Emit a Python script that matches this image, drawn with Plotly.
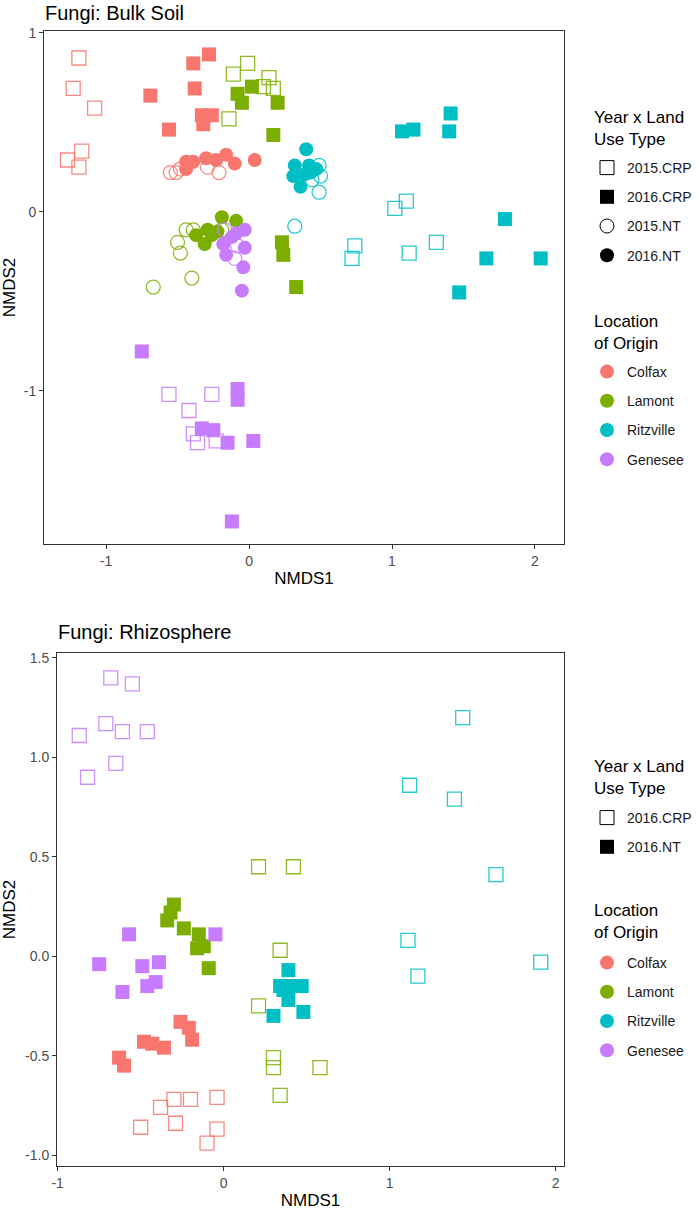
import plotly.graph_objects as go

# ---------------- colours / categories ----------------
LOCATIONS = ["Colfax", "Lamont", "Ritzville", "Genesee"]
COLORS = ["#F8766D", "#7CAE00", "#00BFC4", "#C77CFF"]

# ---------------- Panel 1: Bulk soil ----------------
BULK_TYPES = ["2015.CRP", "2016.CRP", "2015.NT", "2016.NT"]

bulk_colfax_crp15_x = [-1.19, -1.23, -1.08, -1.17, -1.27, -1.19]
bulk_colfax_crp15_y = [0.86, 0.69, 0.58, 0.34, 0.29, 0.25]
bulk_colfax_crp16_x = [-0.28, -0.39, -0.38, -0.69, -0.56, -0.33, -0.26, -0.32]
bulk_colfax_crp16_y = [0.88, 0.83, 0.69, 0.65, 0.46, 0.54, 0.54, 0.49]
bulk_colfax_nt15_x = [-0.55, -0.51, -0.48, -0.29, -0.21]
bulk_colfax_nt15_y = [0.22, 0.22, 0.24, 0.25, 0.22]
bulk_colfax_nt16_x = [-0.44, -0.39, -0.44, -0.30, -0.23, -0.16, -0.10, 0.04]
bulk_colfax_nt16_y = [0.28, 0.28, 0.24, 0.30, 0.29, 0.32, 0.27, 0.29]

bulk_lamont_crp15_x = [-0.11, -0.01, 0.14, 0.17, 0.10, -0.14]
bulk_lamont_crp15_y = [0.77, 0.83, 0.75, 0.69, 0.70, 0.52]
bulk_lamont_crp16_x = [-0.08, -0.05, 0.02, 0.20, 0.17, 0.23, 0.24, 0.33]
bulk_lamont_crp16_y = [0.66, 0.61, 0.70, 0.61, 0.43, -0.17, -0.24, -0.42]
bulk_lamont_nt15_x = [-0.44, -0.39, -0.50, -0.48, -0.40, -0.67, -0.19]
bulk_lamont_nt15_y = [-0.10, -0.10, -0.17, -0.23, -0.37, -0.42, -0.10]
bulk_lamont_nt16_x = [-0.19, -0.09, -0.37, -0.29, -0.31, -0.26, -0.22]
bulk_lamont_nt16_y = [-0.03, -0.05, -0.13, -0.10, -0.18, -0.13, -0.11]

bulk_ritz_crp15_x = [1.10, 1.02, 0.74, 0.72, 1.12, 1.31]
bulk_ritz_crp15_y = [0.06, 0.02, -0.19, -0.26, -0.23, -0.17]
bulk_ritz_crp16_x = [1.41, 1.07, 1.15, 1.40, 1.79, 1.66, 2.04, 1.47]
bulk_ritz_crp16_y = [0.55, 0.45, 0.46, 0.45, -0.04, -0.26, -0.26, -0.45]
bulk_ritz_nt15_x = [0.50, 0.49, 0.44, 0.49, 0.32]
bulk_ritz_nt15_y = [0.20, 0.26, 0.18, 0.11, -0.08]
bulk_ritz_nt16_x = [0.40, 0.32, 0.31, 0.36, 0.42, 0.43, 0.47, 0.39]
bulk_ritz_nt16_y = [0.35, 0.26, 0.20, 0.14, 0.26, 0.22, 0.24, 0.21]

bulk_gen_crp15_x = [-0.56, -0.26, -0.42, -0.39, -0.36, -0.23]
bulk_gen_crp15_y = [-1.02, -1.02, -1.11, -1.24, -1.29, -1.28]
bulk_gen_crp16_x = [-0.75, -0.08, -0.08, -0.33, -0.25, -0.15, 0.03, -0.12]
bulk_gen_crp16_y = [-0.78, -0.99, -1.05, -1.21, -1.22, -1.29, -1.28, -1.73]
bulk_gen_nt15_x = [-0.17, -0.08, -0.10]
bulk_gen_nt15_y = [-0.10, -0.19, -0.26]
bulk_gen_nt16_x = [-0.03, -0.09, -0.12, -0.18, -0.03, -0.16, -0.04, -0.05]
bulk_gen_nt16_y = [-0.10, -0.12, -0.14, -0.18, -0.20, -0.24, -0.31, -0.44]

# ---------------- Panel 2: Rhizosphere ----------------
RHIZO_TYPES = ["2016.CRP", "2016.NT"]

rhizo_colfax_crp_x = [-0.30, -0.20, -0.04, -0.38, -0.50, -0.29, -0.04, -0.10]
rhizo_colfax_crp_y = [-0.72, -0.72, -0.71, -0.76, -0.86, -0.84, -0.87, -0.94]
rhizo_colfax_nt_x = [-0.26, -0.21, -0.19, -0.48, -0.43, -0.36, -0.63, -0.60]
rhizo_colfax_nt_y = [-0.33, -0.36, -0.42, -0.43, -0.44, -0.46, -0.51, -0.55]

rhizo_lamont_crp_x = [0.21, 0.42, 0.34, 0.21, 0.30, 0.30, 0.58, 0.34]
rhizo_lamont_crp_y = [0.45, 0.45, 0.03, -0.25, -0.51, -0.56, -0.56, -0.70]
rhizo_lamont_nt_x = [-0.30, -0.32, -0.34, -0.24, -0.15, -0.16, -0.12, -0.09]
rhizo_lamont_nt_y = [0.26, 0.22, 0.18, 0.14, 0.11, 0.04, 0.05, -0.06]

rhizo_ritz_crp_x = [1.44, 1.12, 1.39, 1.64, 1.11, 1.17, 1.91]
rhizo_ritz_crp_y = [1.20, 0.86, 0.79, 0.41, 0.08, -0.10, -0.03]
rhizo_ritz_nt_x = [0.39, 0.34, 0.39, 0.47, 0.36, 0.39, 0.48, 0.30]
rhizo_ritz_nt_y = [-0.07, -0.15, -0.15, -0.15, -0.17, -0.22, -0.28, -0.30]

rhizo_gen_crp_x = [-0.68, -0.55, -0.71, -0.61, -0.46, -0.87, -0.65, -0.82]
rhizo_gen_crp_y = [1.40, 1.37, 1.17, 1.13, 1.13, 1.11, 0.97, 0.90]
rhizo_gen_nt_x = [-0.05, -0.57, -0.75, -0.49, -0.39, -0.41, -0.46, -0.61]
rhizo_gen_nt_y = [0.11, 0.11, -0.04, -0.05, -0.03, -0.13, -0.15, -0.18]

BULK_X_TICKS = [-1, 0, 1, 2]
BULK_Y_TICKS = [-1, 0, 1]
RHIZO_X_TICKS = [-1, 0, 1, 2]
RHIZO_Y_TICKS = [-1.0, -0.5, 0.0, 0.5, 1.0, 1.5]

# ---------------- figure ----------------
W, H = 700, 1210  # body margin is removed in the page (see post_script below)
FONT = "Arial, Liberation Sans, sans-serif"
SYMBOLS = {"2015.CRP": "square-open", "2016.CRP": "square",
           "2015.NT": "circle-open", "2016.NT": "circle"}
RHIZO_SYMBOLS = {"2016.CRP": "square-open", "2016.NT": "square"}

fig = go.Figure()


def add_points(x, y, color, symbol, xa, ya):
    is_open = symbol.endswith("open")
    fig.add_trace(go.Scatter(
        x=x, y=y, mode="markers", xaxis=xa, yaxis=ya, showlegend=False,
        hoverinfo="x+y",
        marker=dict(symbol=symbol, size=14,
                    color=color, opacity=0.85 if is_open else 1.0,
                    line=dict(color=color, width=1.3 if is_open else 0))))


bulk_data = [
    [(bulk_colfax_crp15_x, bulk_colfax_crp15_y), (bulk_colfax_crp16_x, bulk_colfax_crp16_y),
     (bulk_colfax_nt15_x, bulk_colfax_nt15_y), (bulk_colfax_nt16_x, bulk_colfax_nt16_y)],
    [(bulk_lamont_crp15_x, bulk_lamont_crp15_y), (bulk_lamont_crp16_x, bulk_lamont_crp16_y),
     (bulk_lamont_nt15_x, bulk_lamont_nt15_y), (bulk_lamont_nt16_x, bulk_lamont_nt16_y)],
    [(bulk_ritz_crp15_x, bulk_ritz_crp15_y), (bulk_ritz_crp16_x, bulk_ritz_crp16_y),
     (bulk_ritz_nt15_x, bulk_ritz_nt15_y), (bulk_ritz_nt16_x, bulk_ritz_nt16_y)],
    [(bulk_gen_crp15_x, bulk_gen_crp15_y), (bulk_gen_crp16_x, bulk_gen_crp16_y),
     (bulk_gen_nt15_x, bulk_gen_nt15_y), (bulk_gen_nt16_x, bulk_gen_nt16_y)],
]
for li, loc in enumerate(LOCATIONS):
    for ti, t in enumerate(BULK_TYPES):
        xs, ys = bulk_data[li][ti]
        add_points(xs, ys, COLORS[li], SYMBOLS[t], "x", "y")

rhizo_data = [
    [(rhizo_colfax_crp_x, rhizo_colfax_crp_y), (rhizo_colfax_nt_x, rhizo_colfax_nt_y)],
    [(rhizo_lamont_crp_x, rhizo_lamont_crp_y), (rhizo_lamont_nt_x, rhizo_lamont_nt_y)],
    [(rhizo_ritz_crp_x, rhizo_ritz_crp_y), (rhizo_ritz_nt_x, rhizo_ritz_nt_y)],
    [(rhizo_gen_crp_x, rhizo_gen_crp_y), (rhizo_gen_nt_x, rhizo_gen_nt_y)],
]
for li, loc in enumerate(LOCATIONS):
    for ti, t in enumerate(RHIZO_TYPES):
        xs, ys = rhizo_data[li][ti]
        add_points(xs, ys, COLORS[li], RHIZO_SYMBOLS[t], "x2", "y2")


# legend entries (dummy traces)
def legend_entry(name, symbol, color, legend, group):
    is_open = symbol.endswith("open")
    fig.add_trace(go.Scatter(
        x=[None], y=[None], mode="markers", name=name, legend=legend,
        legendgroup=group, showlegend=True,
        marker=dict(symbol=symbol, size=14, color=color,
                    line=dict(color=color, width=1 if is_open else 0))))


for t in BULK_TYPES:
    legend_entry(t, SYMBOLS[t], "#000000", "legend", "b_" + t)
for li, loc in enumerate(LOCATIONS):
    legend_entry(loc, "circle", COLORS[li], "legend2", "bl_" + loc)
for t in RHIZO_TYPES:
    legend_entry(t, RHIZO_SYMBOLS[t], "#000000", "legend3", "r_" + t)
for li, loc in enumerate(LOCATIONS):
    legend_entry(loc, "circle", COLORS[li], "legend4", "rl_" + loc)


def px_x(p):
    return p / W


def px_y(p):
    return 1 - p / H


axis_common = dict(showgrid=False, zeroline=False, showline=True, mirror=True,
                   linecolor="#333333", linewidth=1, ticks="outside", ticklen=4,
                   tickcolor="#333333", automargin=False,
                   tickfont=dict(family=FONT, size=14, color="#4d4d4d"))
title_font = dict(family=FONT, size=17, color="#000")

legend_common = dict(bgcolor="rgba(0,0,0,0)", xanchor="left", yanchor="top",
                     font=dict(family=FONT, size=14, color="#1a1a1a"),
                     tracegroupgap=8, itemclick=False, itemdoubleclick=False)

LEG_X = 587
TITLE_X = 592


def ann(text, x, y, size, anchor="top"):
    return dict(text=text, x=px_x(x), y=px_y(y), xref="paper", yref="paper",
                xanchor="left", yanchor=anchor, align="left", showarrow=False,
                font=dict(family=FONT, size=size, color="#000"))


fig.update_layout(
    width=W, height=H, margin=dict(l=0, r=0, t=0, b=0),
    paper_bgcolor="white", plot_bgcolor="white",
    font=dict(family=FONT),
    xaxis=dict(domain=[px_x(44), px_x(564)], range=[-1.434, 2.203], anchor="y",
               tickvals=BULK_X_TICKS, ticktext=[str(v) for v in BULK_X_TICKS],
               title=dict(text="NMDS1", font=title_font, standoff=4),
               **axis_common),
    yaxis=dict(domain=[px_y(544), px_y(31)], range=[-1.856, 1.011], anchor="x",
               tickvals=BULK_Y_TICKS, ticktext=[str(v) for v in BULK_Y_TICKS],
               title=dict(text="NMDS2", font=title_font, standoff=6),
               **axis_common),
    xaxis2=dict(domain=[px_x(57), px_x(564)], range=[-1.004, 2.05], anchor="y2",
                tickvals=RHIZO_X_TICKS, ticktext=[str(v) for v in RHIZO_X_TICKS],
                title=dict(text="NMDS1", font=title_font, standoff=4),
                **axis_common),
    yaxis2=dict(domain=[px_y(1166), px_y(653)], range=[-1.055, 1.525], anchor="x2",
                tickvals=RHIZO_Y_TICKS, ticktext=["%.1f" % v for v in RHIZO_Y_TICKS],
                title=dict(text="NMDS2", font=title_font, standoff=6),
                **axis_common),
    legend=dict(x=px_x(LEG_X), y=px_y(152), **legend_common),
    legend2=dict(x=px_x(LEG_X), y=px_y(356), **legend_common),
    legend3=dict(x=px_x(LEG_X), y=px_y(802), **legend_common),
    legend4=dict(x=px_x(LEG_X), y=px_y(947), **legend_common),
    annotations=[
        ann("Fungi: Bulk Soil", 43, 13, 20, anchor="middle"),
        ann("Fungi: Rhizosphere", 56, 632, 20, anchor="middle"),
        ann("Year x Land<br>Use Type", TITLE_X, 106, 17),
        ann("Location<br>of Origin", TITLE_X, 310, 17),
        ann("Year x Land<br>Use Type", TITLE_X, 755, 17),
        ann("Location<br>of Origin", TITLE_X, 899, 17),
    ],
)

fig.write_html("out.html",
               config={"displayModeBar": False},
               post_script="document.body.style.margin='0px';")
